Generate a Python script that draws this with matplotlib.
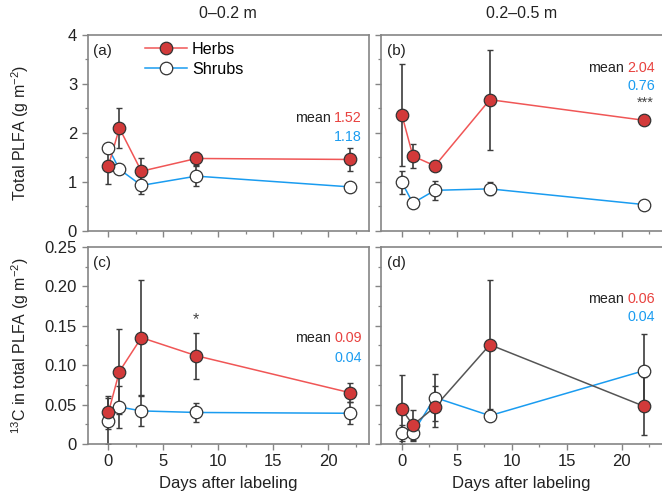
import matplotlib
matplotlib.use("Agg")
import matplotlib.pyplot as plt
from matplotlib.ticker import MultipleLocator, FuncFormatter

plt.rcParams['font.family'] = ['Liberation Sans', 'DejaVu Sans']
plt.rcParams['mathtext.fontset'] = 'custom'
plt.rcParams['mathtext.rm'] = 'Liberation Sans'
plt.rcParams['mathtext.it'] = 'Liberation Sans:italic'

days = [0, 1, 3, 8, 22]

# (a) total PLFA, 0-0.2 m
a_herbs = [1.33, 2.10, 1.22, 1.48, 1.46]
a_herbs_err = [0.38, 0.40, 0.27, 0.14, 0.24]
a_shrubs = [1.69, 1.26, 0.93, 1.12, 0.90]
a_shrubs_err = [0.06, 0.08, 0.17, 0.21, 0.04]
# (b) total PLFA, 0.2-0.5 m
b_herbs = [2.37, 1.53, 1.33, 2.68, 2.26]
b_herbs_err = [1.04, 0.24, 0.08, 1.02, 0.07]
b_shrubs = [0.99, 0.57, 0.83, 0.86, 0.54]
b_shrubs_err = [0.23, 0.07, 0.20, 0.13, 0.06]
# (c) 13C in total PLFA, 0-0.2 m
c_herbs = [0.040, 0.092, 0.135, 0.112, 0.065]
c_herbs_err = [0.021, 0.054, 0.073, 0.029, 0.012]
c_shrubs = [0.029, 0.047, 0.042, 0.040, 0.039]
c_shrubs_err = [0.029, 0.027, 0.019, 0.012, 0.014]
# (d) 13C in total PLFA, 0.2-0.5 m
d_herbs = [0.044, 0.024, 0.047, 0.126, 0.048]
d_herbs_err = [0.044, 0.019, 0.026, 0.082, 0.037]
d_shrubs = [0.014, 0.014, 0.059, 0.036, 0.093]
d_shrubs_err = [0.010, 0.010, 0.030, 0.005, 0.046]

means = {'a': ('1.52', '1.18'), 'b': ('2.04', '0.76'),
         'c': ('0.09', '0.04'), 'd': ('0.06', '0.04')}
titles = ['0\u20130.2 m', '0.2\u20130.5 m']

RED_FILL = '#d23a3a'
RED_LINE = '#f05656'
RED_TXT = '#e8423f'
BLUE = '#1a9cf0'
EDGE = '#333333'
ERR = '#3c3c3c'
SPINE = '#858585'
TXT = '#222222'

W, H = 662, 498
fig = plt.figure(figsize=(W / 100, H / 100), dpi=100)


def add_ax(l, t, r, b):
    return fig.add_axes([l / W, 1 - b / H, (r - l) / W, (b - t) / H])


axa = add_ax(87.5, 35, 369, 231)
axb = add_ax(381, 35, 662.5, 231)
axc = add_ax(87.5, 247, 369, 444)
axd = add_ax(381, 247, 662.5, 444)


def draw(ax, herbs, herbs_err, shrubs, shrubs_err, herb_line=RED_LINE):
    ax.errorbar(days, shrubs, yerr=shrubs_err, fmt='none', ecolor=ERR,
                elinewidth=1.2, capsize=2.2, capthick=1.0, zorder=2)
    ax.errorbar(days, herbs, yerr=herbs_err, fmt='none', ecolor=ERR,
                elinewidth=1.2, capsize=2.2, capthick=1.0, zorder=2)
    ax.plot(days, shrubs, '-', color=BLUE, lw=1.1, zorder=3)
    ax.plot(days, herbs, '-', color=herb_line, lw=1.1, zorder=3)
    ax.plot(days, shrubs, 'o', ms=9, mfc='white', mec=EDGE, mew=0.9,
            zorder=4)
    ax.plot(days, herbs, 'o', ms=9, mfc=RED_FILL, mec=EDGE, mew=0.9,
            zorder=5)


draw(axa, a_herbs, a_herbs_err, a_shrubs, a_shrubs_err)
draw(axb, b_herbs, b_herbs_err, b_shrubs, b_shrubs_err)
draw(axc, c_herbs, c_herbs_err, c_shrubs, c_shrubs_err)
draw(axd, d_herbs, d_herbs_err, d_shrubs, d_shrubs_err, herb_line='#555555')

for ax in (axa, axb, axc, axd):
    ax.set_xlim(-1.9, 23.7)
    ax.xaxis.set_major_locator(MultipleLocator(5))
    ax.xaxis.set_minor_locator(MultipleLocator(2.5))
    for s in ax.spines.values():
        s.set_color(SPINE)
        s.set_linewidth(1.2)
    ax.tick_params(which='major', direction='out', length=4, width=1.0,
                   color=SPINE, labelsize=12, labelcolor=TXT)
    ax.tick_params(which='minor', direction='out', length=2.5, width=0.9,
                   color=SPINE)

for ax in (axa, axb):
    ax.set_ylim(0, 4)
    ax.yaxis.set_major_locator(MultipleLocator(1))
    ax.yaxis.set_minor_locator(MultipleLocator(0.5))
    ax.yaxis.set_major_formatter(FuncFormatter(lambda v, p: '%d' % round(v)))
    ax.tick_params(labelbottom=False)
for ax in (axc, axd):
    ax.set_ylim(0, 0.25)
    ax.yaxis.set_major_locator(MultipleLocator(0.05))
    ax.yaxis.set_minor_locator(MultipleLocator(0.025))
    ax.yaxis.set_major_formatter(
        FuncFormatter(lambda v, p: '0' if abs(v) < 1e-9 else '%.2f' % v))
    ax.set_xlabel('Days after labeling', fontsize=12, color=TXT)
    ax.xaxis.set_label_coords(0.5, -0.16)
for ax in (axb, axd):
    ax.tick_params(labelleft=False)

axa.set_ylabel('Total PLFA (g m$^{-2}$)', fontsize=11.5, color=TXT)
axa.yaxis.set_label_coords(-0.2, 0.5)
axc.set_ylabel('$^{13}$C in total PLFA (g m$^{-2}$)', fontsize=11.5,
               color=TXT)
axc.yaxis.set_label_coords(-0.2, 0.5)

axa.text(0.5, 1.112, titles[0], transform=axa.transAxes, ha='center',
         va='center', fontsize=11.5, color=TXT)
axb.text(0.5, 1.112, titles[1], transform=axb.transAxes, ha='center',
         va='center', fontsize=11.5, color=TXT)

for ax, lab in zip((axa, axb, axc, axd), ('(a)', '(b)', '(c)', '(d)')):
    ax.text(0.02, 0.92, lab, transform=ax.transAxes, ha='left', va='center',
            fontsize=11, color=TXT)

# legend
leg_h = [plt.Line2D([], [], color=RED_LINE, lw=1.1, marker='o', ms=9,
                    mfc=RED_FILL, mec=EDGE, mew=0.9),
         plt.Line2D([], [], color=BLUE, lw=1.1, marker='o', ms=9,
                    mfc='white', mec=EDGE, mew=0.9)]
axa.legend(leg_h, ['Herbs', 'Shrubs'], loc='upper left',
           bbox_to_anchor=(0.205, 0.965), frameon=False, fontsize=11.6,
           handlelength=2.6, handletextpad=0.3, labelspacing=0.3,
           borderpad=0, borderaxespad=0)

# mean annotations
mean_pos = {'a': (axa, 0.975, 0.578, 0.48), 'b': (axb, 0.973, 0.833, 0.741),
            'c': (axc, 0.975, 0.538, 0.438), 'd': (axd, 0.975, 0.736, 0.645)}
for key, (ax, xr, y1, y2) in mean_pos.items():
    hv, sv = means[key]
    t = ax.text(xr, y1, hv, transform=ax.transAxes, ha='right', va='center',
                fontsize=10.3, color=RED_TXT)
    ax.annotate('mean', xy=(0, 0.5), xycoords=t, xytext=(-2.5, 0),
                textcoords='offset points', ha='right', va='center',
                fontsize=10.3, color=TXT)
    ax.text(xr, y2, sv, transform=ax.transAxes, ha='right', va='center',
            fontsize=10.3, color=BLUE)

axb.text(0.967, 0.655, '***', transform=axb.transAxes, ha='right',
         va='center', fontsize=10.5, color='#444444')
axc.text(8, 0.158, '*', ha='center', va='center', fontsize=11.5,
         color='#444444')

fig.savefig('out.png', dpi=100)
